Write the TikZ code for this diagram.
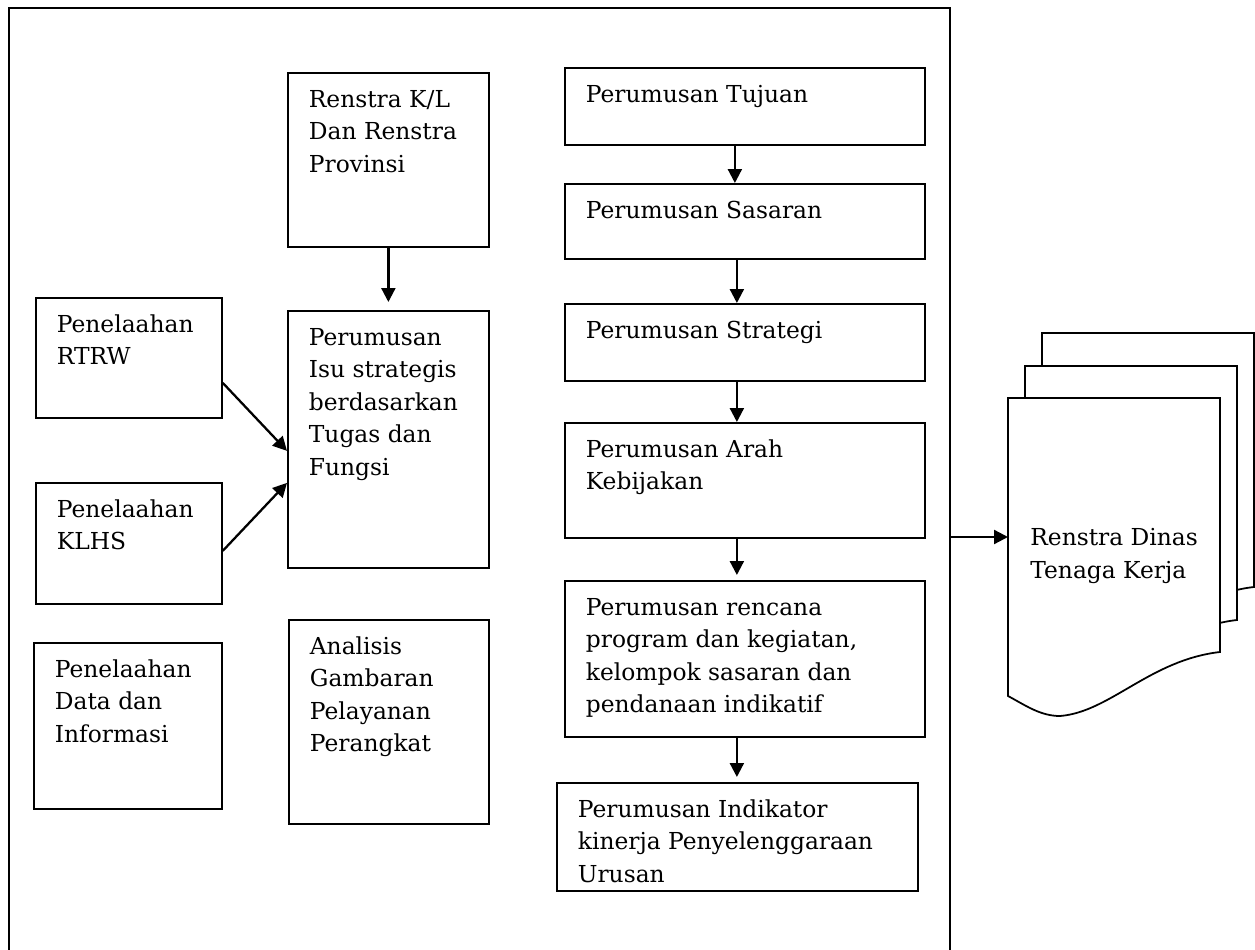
\documentclass[tikz,border=0pt]{standalone}
\usepackage{fontspec}
\setmainfont{DejaVu Serif}
\usetikzlibrary{arrows.meta}
\newcommand{\isikotak}[3]{\parbox[c][\dimexpr 0.02cm*#2-0.46cm\relax][t]{\dimexpr 0.02cm*#1-0.84cm\relax}{\raggedright\hyphenpenalty=10000\strut#3}}
\begin{document}
\begin{tikzpicture}[x=0.02cm, y=-0.02cm,
    kotak/.style={draw, line width=1pt, anchor=north west, inner xsep=0.42cm, inner ysep=0.23cm},
    panah/.style={line width=1.3pt, -{Triangle[length=0.28cm, width=0.28cm]}},
    font=\fontsize{13.3}{18.5}\selectfont]
    \fill[white] (0,0) rectangle (1255,950);
    \useasboundingbox (0,0) rectangle (1255,950);

    % Marco exterior
    \node[draw, line width=1.3pt, anchor=north west, inner sep=0pt, minimum width=18.82cm, minimum height=19.3cm] (bingkai) at (8,7) {};

    % Columna izquierda
    \node[kotak] (rtrw) at (35,297) {\isikotak{186}{120}{Penelaahan\\RTRW}};
    \node[kotak] (klhs) at (35,482) {\isikotak{186}{121}{Penelaahan\\KLHS}};
    \node[kotak] (data) at (33,642) {\isikotak{188}{166}{Penelaahan\\Data dan\\Informasi}};

    % Columna central
    \node[kotak] (renstra) at (287,72) {\isikotak{201}{174}{Renstra K/L\\Dan Renstra\\Provinsi}};
    \node[kotak] (isu) at (287,310) {\isikotak{201}{257}{Perumusan\\Isu strategis\\berdasarkan\\Tugas dan\\Fungsi}};
    \node[kotak] (analisis) at (288,619) {\isikotak{200}{204}{Analisis\\Gambaran\\Pelayanan\\Perangkat}};

    % Columna derecha
    \node[kotak] (tujuan) at (564,67) {\isikotak{360}{77}{Perumusan Tujuan}};
    \node[kotak] (sasaran) at (564,183) {\isikotak{360}{75}{Perumusan Sasaran}};
    \node[kotak] (strategi) at (564,303) {\isikotak{360}{77}{Perumusan Strategi}};
    \node[kotak] (arah) at (564,422) {\isikotak{360}{115}{Perumusan Arah\\Kebijakan}};
    \node[kotak] (rencana) at (564,580) {\isikotak{360}{156}{Perumusan rencana\\program dan kegiatan,\\kelompok sasaran dan\\pendanaan indikatif}};
    \node[kotak] (indikator) at (556,782) {\isikotak{361}{108}{Perumusan Indikator\\kinerja Penyelenggaraan\\Urusan}};

    % Flechas
    \draw[panah, shorten >=0.16cm] (renstra.south) -- (isu.north);
    \draw[panah] ([yshift=-0.5cm]rtrw.east) -- ([yshift=-0.23cm]isu.west);
    \draw[panah] ([yshift=-0.15cm]klhs.east) -- ([yshift=-0.87cm]isu.west);
    \draw[panah] ([xshift=-0.2cm]tujuan.south) -- ([xshift=-0.2cm]sasaran.north);
    \draw[panah] ([xshift=-0.16cm]sasaran.south) -- ([xshift=-0.16cm]strategi.north);
    \draw[panah] ([xshift=-0.16cm]strategi.south) -- ([xshift=-0.16cm]arah.north);
    \draw[panah, shorten >=0.1cm] ([xshift=-0.16cm]arah.south) -- ([xshift=-0.16cm]rencana.north);
    \draw[panah, shorten >=0.1cm] ([xshift=-0.16cm]rencana.south) -- ([xshift=-0.16cm]rencana.south |- indikator.north);

    % Documentos
    \foreach \dx/\dy in {34/-65, 17/-32, 0/0}
        \draw[line width=1pt, fill=white, shift={(\dx,\dy)}] (1008,696) -- (1008,398) -- (1220,398) -- (1220,652)
            .. controls (1150,660) and (1110,712) .. (1060,716)
            .. controls (1040,716) and (1025,705) .. (1008,696) -- cycle;
    \coordinate (dokkiri) at (1008,537);
    \node[anchor=west, inner sep=0pt, align=left] (renstradinas) at (1030,556) {Renstra Dinas\\Tenaga Kerja};
    \draw[panah] (bingkai.east |- dokkiri) -- (dokkiri);
\end{tikzpicture}
\end{document}
